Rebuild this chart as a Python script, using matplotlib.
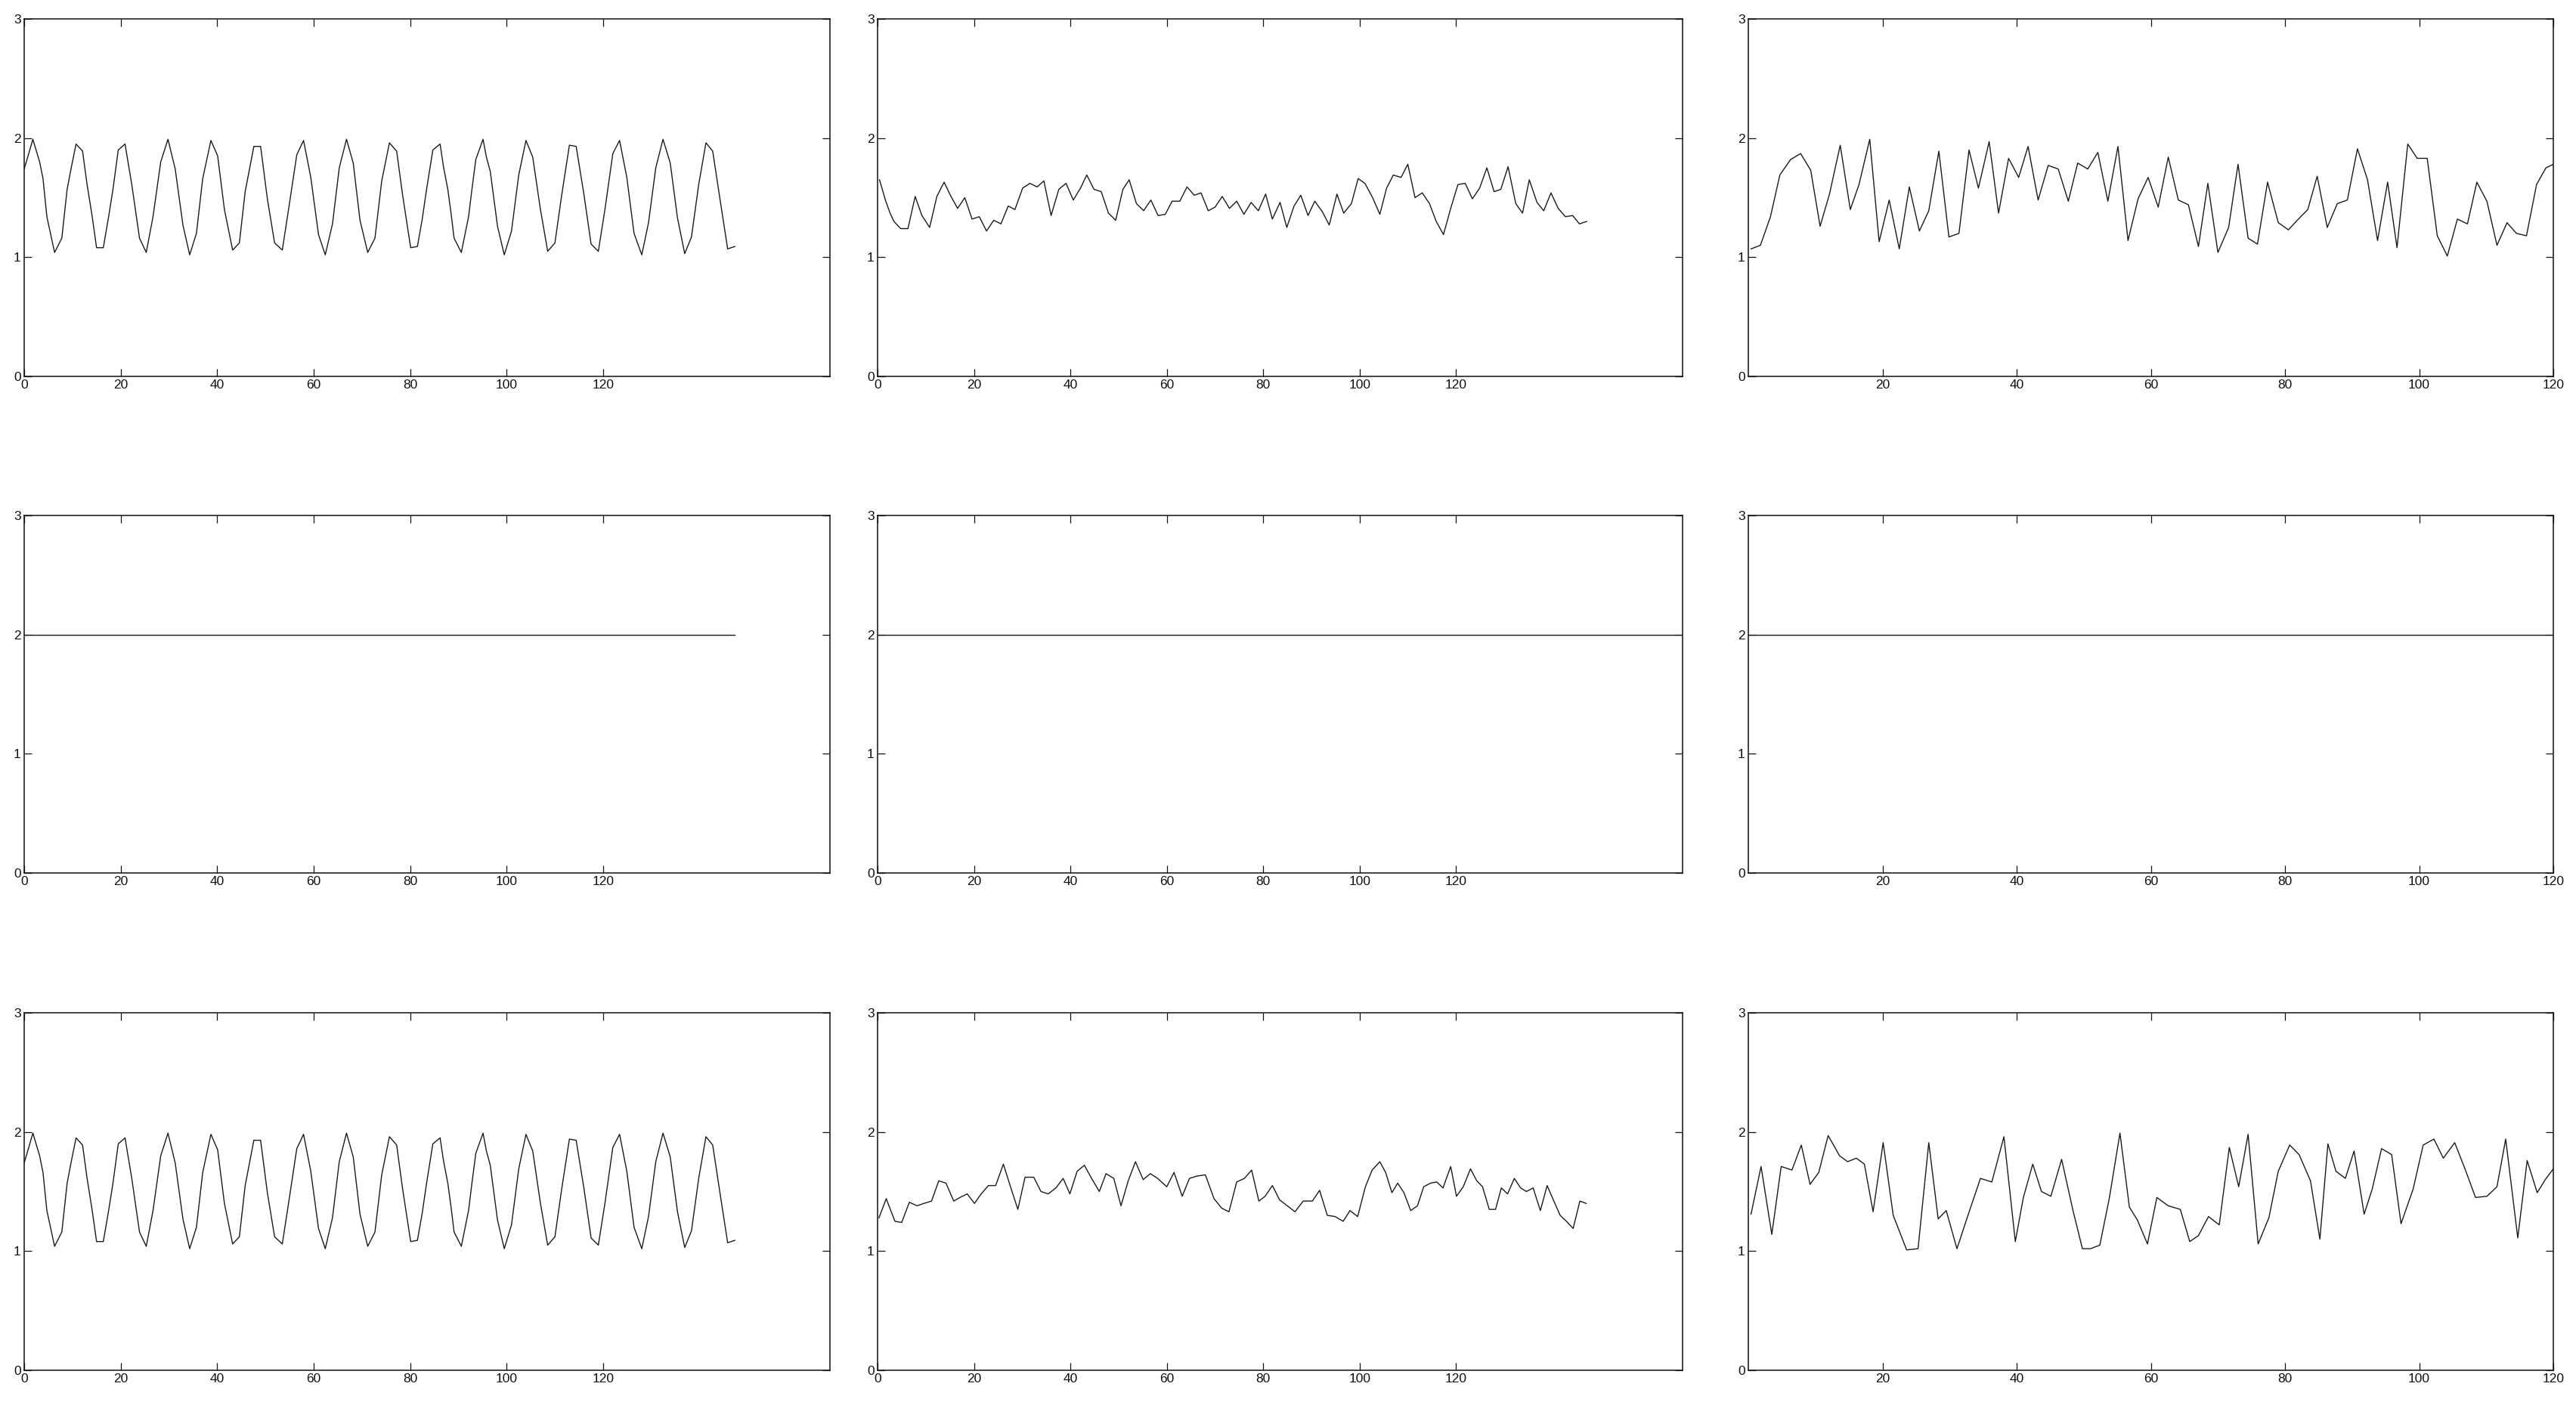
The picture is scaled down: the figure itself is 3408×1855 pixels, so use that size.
import matplotlib
matplotlib.use("Agg")
import matplotlib.pyplot as plt

plt.rcParams['font.family'] = ['Liberation Sans', 'DejaVu Sans']

# --- periodic signal (top-left and bottom-left) ---
sig_x = [0, 0.8, 1.8, 3.2, 3.9, 4.7, 6.3, 7.8, 8.9, 9.7,
         10.75, 12.1, 13.0, 14.1, 15.0, 16.4, 17.5, 18.4, 19.5, 20.9,
         22.3, 23.9, 25.3, 26.7, 28.3, 29.8, 31.3, 32.9, 34.3, 35.7,
         37.0, 38.7, 40.1, 41.5, 43.2, 44.6, 45.8, 47.6, 49.0, 50.4,
         51.9, 53.5, 54.9, 56.5, 57.9, 59.4, 61.0, 62.4, 63.9, 65.3,
         66.8, 68.2, 69.6, 71.2, 72.7, 74.1, 75.7, 77.2, 78.4, 80.1,
         81.5, 82.5, 83.4, 84.7, 86.2, 86.9, 87.8, 88.5, 89.1, 90.6,
         92.1, 92.8, 93.6, 95.1, 95.8, 96.6, 98.1, 99.5, 101.0, 102.5,
         104.0, 105.4, 107.0, 108.5, 110.0, 111.4, 113.0, 114.4, 116.0, 117.5,
         119.0, 120.4, 122.0, 123.4, 124.9, 126.4, 128.0, 129.4, 130.9, 132.4,
         133.9, 135.4, 136.9, 138.3, 139.8, 141.3, 142.7, 144.2, 145.8, 147.3]
sig_y = [1.74, 1.85, 1.99, 1.80, 1.66, 1.34, 1.04, 1.16, 1.57, 1.74,
         1.95, 1.89, 1.62, 1.34, 1.08, 1.08, 1.34, 1.57, 1.90, 1.95,
         1.61, 1.16, 1.04, 1.34, 1.80, 1.99, 1.74, 1.27, 1.02, 1.20,
         1.66, 1.98, 1.85, 1.40, 1.06, 1.12, 1.55, 1.93, 1.93, 1.49,
         1.12, 1.06, 1.43, 1.86, 1.98, 1.67, 1.19, 1.02, 1.28, 1.75,
         1.99, 1.79, 1.31, 1.04, 1.16, 1.64, 1.96, 1.89, 1.53, 1.08,
         1.09, 1.32, 1.57, 1.90, 1.95, 1.76, 1.57, 1.36, 1.16, 1.04,
         1.34, 1.57, 1.82, 1.99, 1.84, 1.72, 1.26, 1.02, 1.22, 1.69,
         1.98, 1.84, 1.40, 1.05, 1.12, 1.52, 1.94, 1.93, 1.53, 1.11,
         1.05, 1.41, 1.87, 1.98, 1.67, 1.20, 1.02, 1.29, 1.75, 1.99,
         1.79, 1.33, 1.03, 1.17, 1.61, 1.96, 1.89, 1.49, 1.07, 1.09]

# --- top-middle ---
tm_x = [0.4, 1.7, 2.6, 3.4, 4.8, 6.3, 7.8, 9.2, 10.8, 12.3,
        13.8, 15.1, 16.6, 18.1, 19.6, 21.1, 22.6, 24.1, 25.6, 27.1,
        28.5, 30.1, 31.6, 33.1, 34.5, 36.0, 37.6, 39.1, 40.6, 42.1,
        43.4, 44.9, 46.4, 47.9, 49.4, 50.9, 52.2, 53.7, 55.2, 56.7,
        58.2, 59.7, 61.1, 62.7, 64.2, 65.7, 67.1, 68.6, 70.0, 71.5,
        73.0, 74.5, 76.0, 77.5, 79.0, 80.5, 81.9, 83.5, 84.9, 86.4,
        87.8, 89.3, 90.7, 92.3, 93.7, 95.3, 96.7, 98.3, 99.7, 101.1,
        102.7, 104.2, 105.6, 107.0, 108.6, 110.0, 111.5, 113.0, 114.5, 115.9,
        117.4, 118.9, 120.4, 121.9, 123.4, 124.9, 126.4, 127.9, 129.3, 130.8,
        132.4, 133.8, 135.2, 136.8, 138.2, 139.7, 141.2, 142.7, 144.2, 145.6,
        147.1]
tm_y = [1.65, 1.47, 1.37, 1.30, 1.24, 1.24, 1.51, 1.35, 1.25, 1.51,
        1.63, 1.52, 1.41, 1.50, 1.32, 1.34, 1.22, 1.31, 1.28, 1.43,
        1.40, 1.58, 1.62, 1.59, 1.64, 1.35, 1.57, 1.62, 1.48, 1.58,
        1.69, 1.57, 1.55, 1.37, 1.31, 1.57, 1.65, 1.45, 1.39, 1.48,
        1.35, 1.36, 1.47, 1.47, 1.59, 1.52, 1.54, 1.39, 1.42, 1.51,
        1.41, 1.47, 1.36, 1.46, 1.39, 1.53, 1.32, 1.46, 1.25, 1.43,
        1.52, 1.35, 1.47, 1.38, 1.27, 1.53, 1.37, 1.45, 1.66, 1.62,
        1.50, 1.36, 1.58, 1.69, 1.67, 1.78, 1.50, 1.54, 1.45, 1.30,
        1.19, 1.41, 1.61, 1.62, 1.49, 1.58, 1.75, 1.55, 1.57, 1.76,
        1.45, 1.37, 1.65, 1.46, 1.39, 1.54, 1.41, 1.34, 1.35, 1.28,
        1.30]

# --- top-right ---
tr_x = [0.4, 1.8, 3.3, 4.7, 6.3, 7.8, 9.3, 10.7, 12.1, 13.7,
        15.2, 16.5, 18.1, 19.5, 21.0, 22.5, 24.0, 25.5, 26.9, 28.4,
        29.9, 31.4, 32.9, 34.3, 35.9, 37.3, 38.8, 40.3, 41.7, 43.2,
        44.7, 46.2, 47.7, 49.1, 50.6, 52.1, 53.6, 55.1, 56.6, 58.1,
        59.6, 61.1, 62.6, 64.1, 65.6, 67.1, 68.5, 70.0, 71.6, 73.0,
        74.5, 75.9, 77.4, 79.0, 80.5, 82.0, 83.4, 84.8, 86.3, 87.8,
        89.3, 90.8, 92.3, 93.8, 95.3, 96.7, 98.3, 99.7, 101.2, 102.7,
        104.2, 105.7, 107.2, 108.6, 110.1, 111.6, 113.1, 114.5, 116.0, 117.5,
        118.9, 120.0]
tr_y = [1.07, 1.10, 1.34, 1.69, 1.82, 1.87, 1.73, 1.26, 1.53, 1.94,
        1.40, 1.61, 1.99, 1.13, 1.48, 1.07, 1.59, 1.22, 1.39, 1.89,
        1.17, 1.20, 1.90, 1.58, 1.97, 1.37, 1.83, 1.67, 1.93, 1.48,
        1.77, 1.74, 1.47, 1.79, 1.74, 1.88, 1.47, 1.93, 1.14, 1.49,
        1.67, 1.42, 1.84, 1.48, 1.44, 1.09, 1.62, 1.04, 1.25, 1.78,
        1.16, 1.11, 1.63, 1.29, 1.23, 1.32, 1.40, 1.68, 1.25, 1.45,
        1.48, 1.91, 1.65, 1.14, 1.63, 1.08, 1.95, 1.83, 1.83, 1.18,
        1.01, 1.32, 1.28, 1.63, 1.47, 1.10, 1.29, 1.20, 1.18, 1.61,
        1.75, 1.78]

# --- constant rows ---
const_level = 2.0
const_left_x = [0, 147.3]
const_mid_x = [0, 167]
const_right_x = [0, 120]

# --- bottom-middle ---
bm_x = [0.3, 1.8, 3.6, 5.0, 6.6, 8.2, 9.6, 11.2, 12.7, 14.2,
        15.8, 17.1, 18.6, 20.1, 21.5, 23.0, 24.5, 26.1, 27.5, 29.1,
        30.6, 32.4, 33.9, 35.4, 37.0, 38.5, 39.9, 41.4, 42.9, 44.4,
        46.0, 47.4, 49.0, 50.5, 52.0, 53.5, 55.1, 56.6, 58.1, 60.0,
        61.5, 63.2, 64.7, 66.3, 68.0, 69.8, 71.4, 72.9, 74.5, 76.1,
        77.6, 79.1, 80.4, 81.9, 83.4, 85.0, 86.6, 88.3, 90.2, 91.7,
        93.3, 94.9, 96.6, 98.0, 99.6, 101.2, 102.6, 104.2, 105.4, 106.7,
        107.9, 109.2, 110.6, 112.0, 113.3, 114.7, 116.0, 117.3, 118.9, 120.1,
        121.5, 123.0, 124.3, 125.5, 126.9, 128.2, 129.4, 130.7, 132.1, 133.4,
        134.6, 136.0, 137.5, 138.9, 140.3, 141.6, 142.9, 144.3, 145.7, 147.0]
bm_y = [1.28, 1.44, 1.25, 1.24, 1.41, 1.38, 1.40, 1.42, 1.59, 1.57,
        1.42, 1.45, 1.48, 1.40, 1.48, 1.55, 1.55, 1.73, 1.55, 1.35,
        1.62, 1.62, 1.50, 1.48, 1.53, 1.61, 1.48, 1.67, 1.72, 1.61,
        1.50, 1.65, 1.61, 1.38, 1.59, 1.75, 1.60, 1.65, 1.61, 1.54,
        1.66, 1.46, 1.61, 1.63, 1.64, 1.44, 1.36, 1.33, 1.58, 1.61,
        1.68, 1.42, 1.46, 1.55, 1.43, 1.38, 1.33, 1.42, 1.42, 1.51,
        1.30, 1.29, 1.25, 1.34, 1.29, 1.54, 1.68, 1.75, 1.66, 1.49,
        1.57, 1.49, 1.34, 1.38, 1.54, 1.57, 1.58, 1.53, 1.71, 1.46,
        1.54, 1.69, 1.59, 1.54, 1.35, 1.35, 1.53, 1.48, 1.61, 1.53,
        1.50, 1.53, 1.34, 1.55, 1.42, 1.30, 1.25, 1.19, 1.42, 1.40]

# --- bottom-right ---
br_x = [0.4, 1.9, 3.5, 4.9, 6.5, 7.9, 9.2, 10.5, 11.9, 13.6,
        14.8, 16.1, 17.3, 18.6, 20.1, 21.6, 23.6, 25.3, 26.9, 28.3,
        29.5, 31.1, 32.8, 34.6, 36.3, 38.1, 39.8, 41.0, 42.4, 43.7,
        45.1, 46.7, 48.4, 49.8, 51.0, 52.4, 53.8, 55.4, 56.8, 58.0,
        59.5, 60.9, 62.6, 64.4, 65.8, 67.1, 68.6, 70.2, 71.7, 73.1,
        74.5, 76.0, 77.6, 79.0, 80.7, 82.1, 83.8, 85.2, 86.4, 87.6,
        89.0, 90.3, 91.8, 93.0, 94.4, 95.9, 97.3, 99.1, 100.6, 102.2,
        103.6, 105.3, 106.9, 108.4, 110.1, 111.6, 112.9, 114.7, 116.1, 117.6,
        118.8, 120.0]
br_y = [1.31, 1.71, 1.14, 1.71, 1.68, 1.89, 1.56, 1.66, 1.97, 1.80,
        1.75, 1.78, 1.73, 1.33, 1.91, 1.30, 1.01, 1.02, 1.91, 1.27,
        1.34, 1.02, 1.31, 1.61, 1.58, 1.96, 1.08, 1.45, 1.73, 1.50,
        1.46, 1.77, 1.34, 1.02, 1.02, 1.05, 1.44, 1.99, 1.37, 1.26,
        1.06, 1.45, 1.38, 1.35, 1.08, 1.13, 1.29, 1.22, 1.87, 1.54,
        1.98, 1.06, 1.28, 1.67, 1.89, 1.81, 1.59, 1.10, 1.90, 1.67,
        1.61, 1.84, 1.31, 1.52, 1.86, 1.81, 1.23, 1.52, 1.89, 1.94,
        1.78, 1.91, 1.68, 1.45, 1.46, 1.54, 1.94, 1.11, 1.76, 1.49,
        1.60, 1.69]

yticks = [0, 1, 2, 3]
xticks_wide = [0, 20, 40, 60, 80, 100, 120]
xticks_narrow = [20, 40, 60, 80, 100, 120]

W, H = 3408, 1855
fig = plt.figure(figsize=(W / 100, H / 100), dpi=100)

col_left = [32, 1161, 2313]
col_w = [1066, 1065, 1065]
row_top = [25, 682, 1340]
row_h = 473


def make_ax(r, c, xmax, xticks):
    ax = fig.add_axes([col_left[c] / W, (H - row_top[r] - row_h) / H,
                       col_w[c] / W, row_h / H])
    ax.set_xlim(0, xmax)
    ax.set_ylim(0, 3)
    ax.set_xticks(xticks)
    ax.set_yticks(yticks)
    ax.tick_params(direction='in', top=True, right=True, length=7.5,
                   width=0.9, labelsize=12.5, pad=3, colors='#111111')
    for s in ax.spines.values():
        s.set_linewidth(1.1)
        s.set_color('#111111')
    return ax


line_kw = dict(color='#1a1a1a', lw=1.0)

# row 1
ax = make_ax(0, 0, 167, xticks_wide)
ax.plot(sig_x, sig_y, **line_kw)
ax = make_ax(0, 1, 167, xticks_wide)
ax.plot(tm_x, tm_y, **line_kw)
ax = make_ax(0, 2, 120, xticks_narrow)
ax.plot(tr_x, tr_y, **line_kw)

# row 2
ax = make_ax(1, 0, 167, xticks_wide)
ax.plot(const_left_x, [const_level] * len(const_left_x), **line_kw)
ax = make_ax(1, 1, 167, xticks_wide)
ax.plot(const_mid_x, [const_level] * len(const_mid_x), **line_kw)
ax = make_ax(1, 2, 120, xticks_narrow)
ax.plot(const_right_x, [const_level] * len(const_right_x), **line_kw)

# row 3
ax = make_ax(2, 0, 167, xticks_wide)
ax.plot(sig_x, sig_y, **line_kw)
ax = make_ax(2, 1, 167, xticks_wide)
ax.plot(bm_x, bm_y, **line_kw)
ax = make_ax(2, 2, 120, xticks_narrow)
ax.plot(br_x, br_y, **line_kw)

plt.savefig("out.png", dpi=100)
